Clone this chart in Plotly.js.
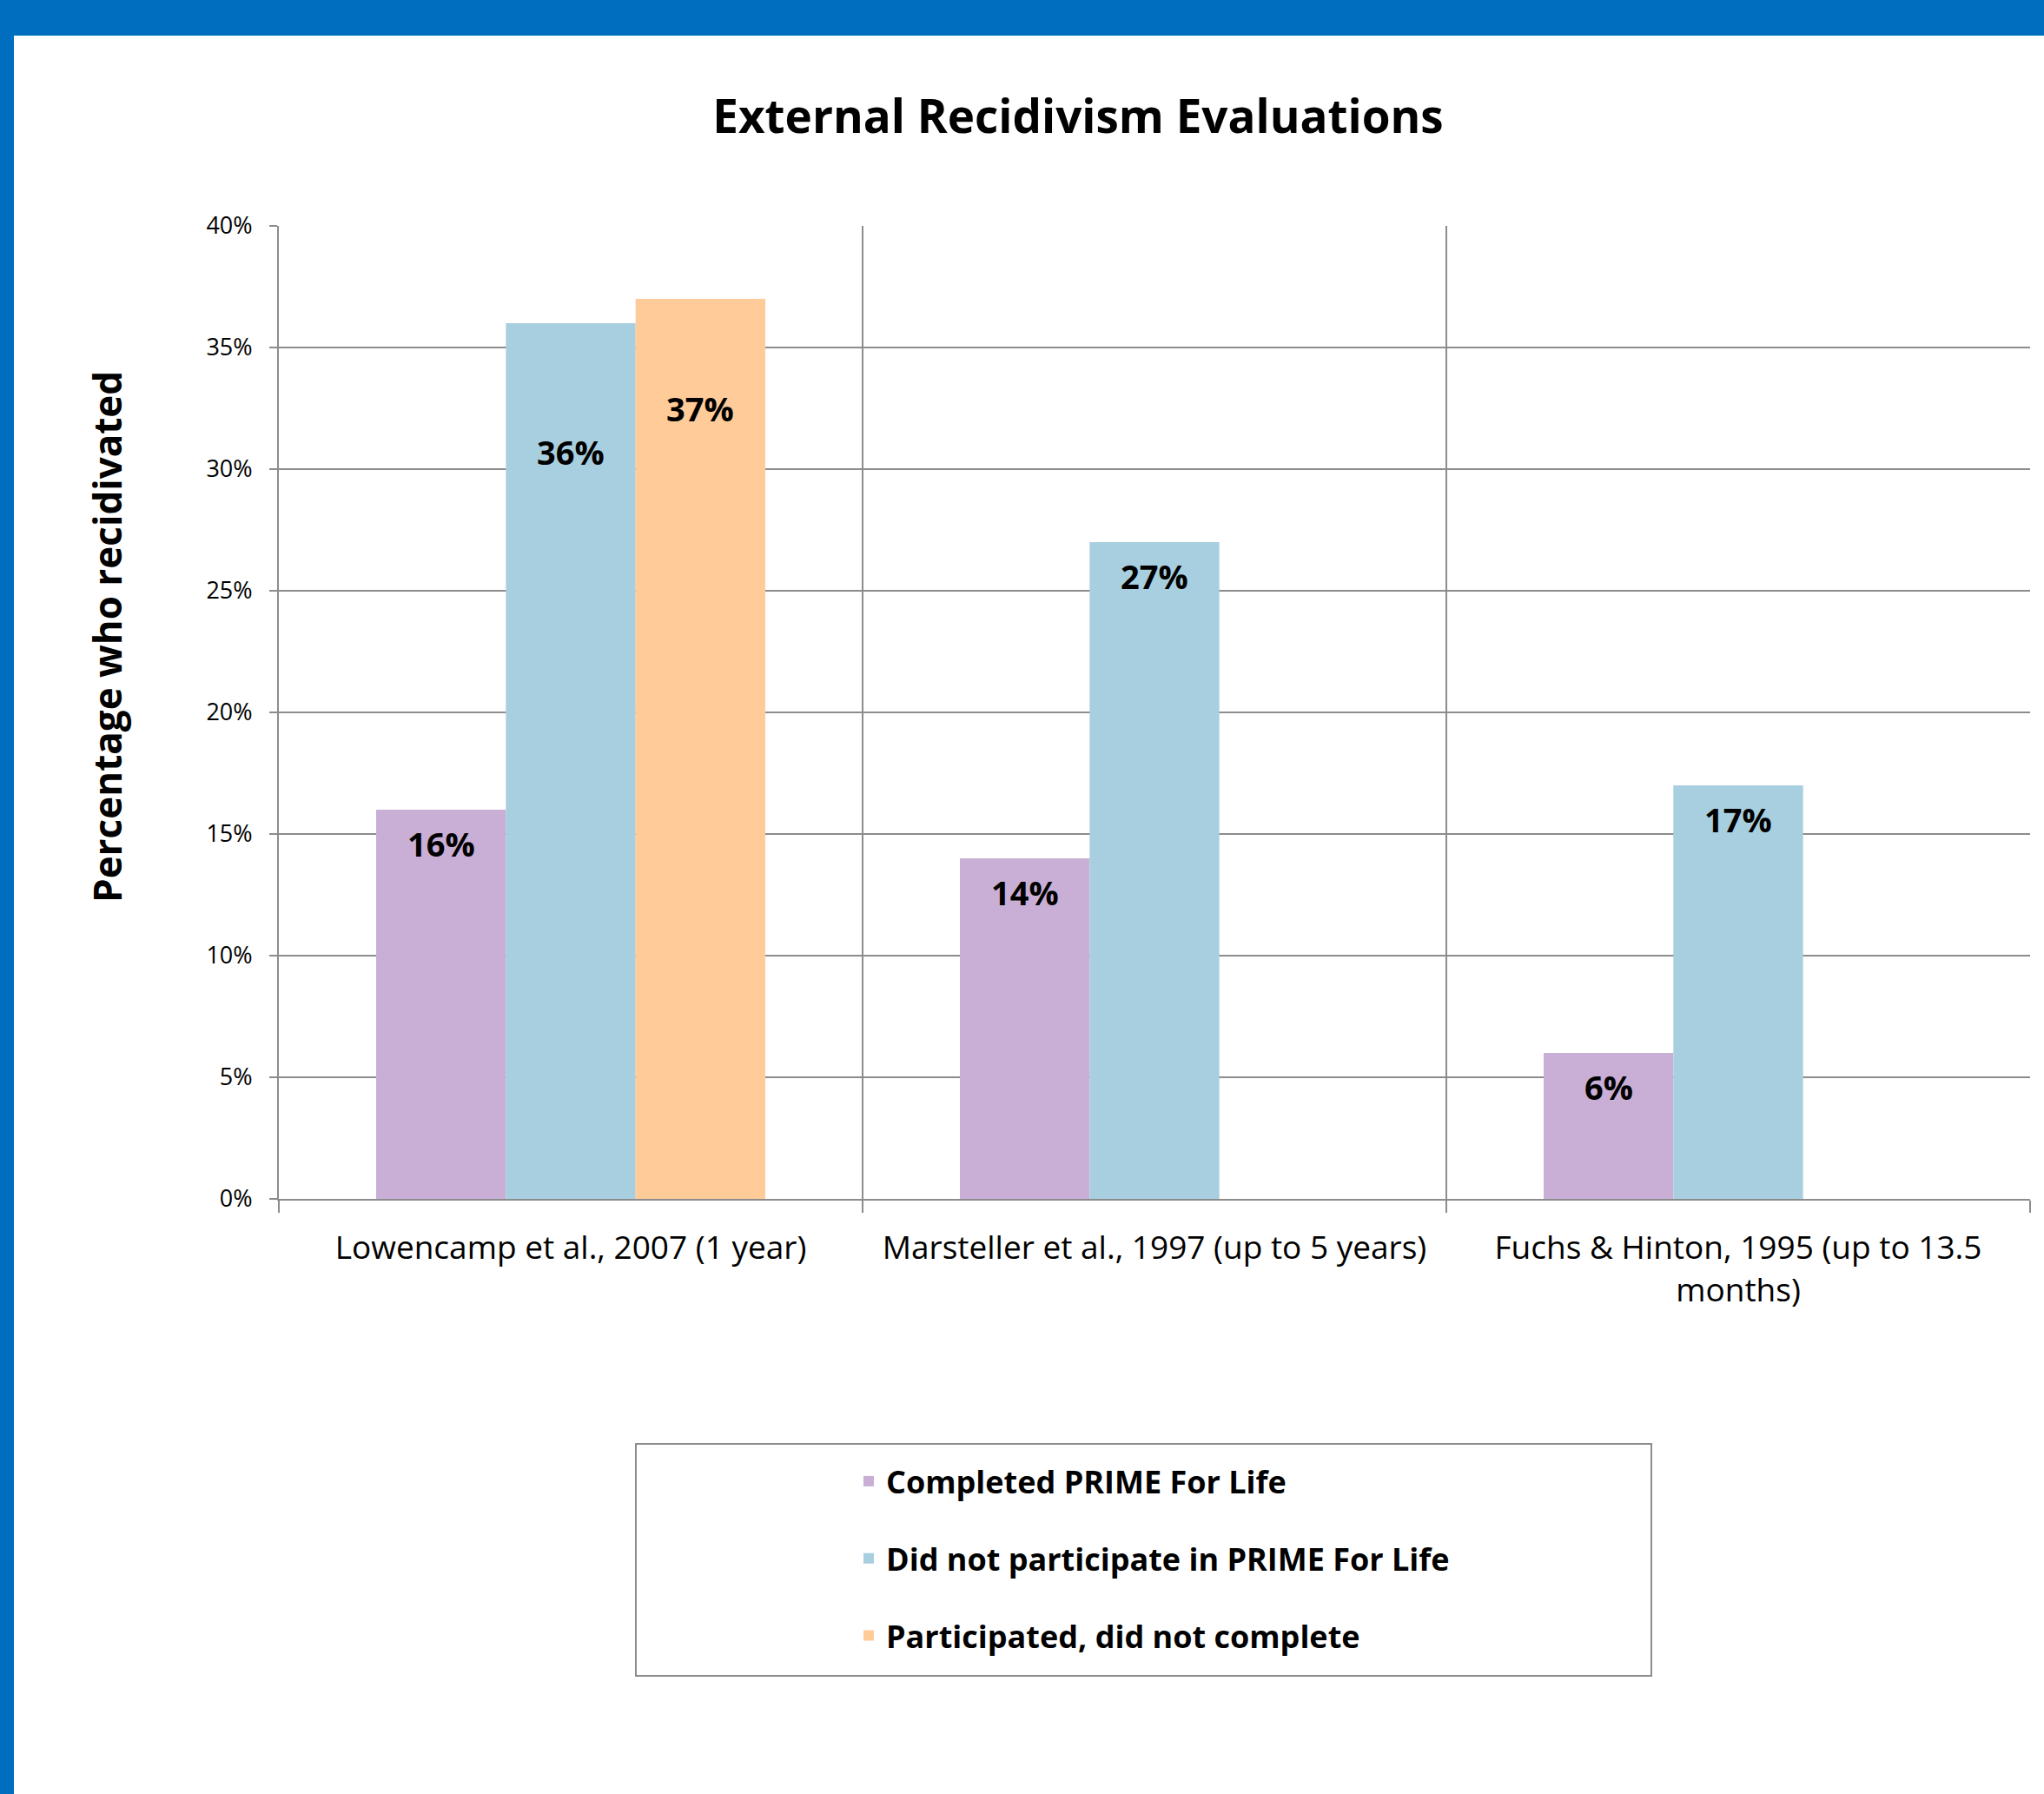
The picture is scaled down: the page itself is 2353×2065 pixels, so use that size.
<!DOCTYPE html>
<html>
<head>
<meta charset="utf-8">
<script src="https://cdn.plot.ly/plotly-3.0.1.min.js"></script>
<style>
  html, body { margin: 0; padding: 0; background: #ffffff; }
  #wrap { position: relative; width: 2353px; height: 2065px; overflow: hidden; }
  #chart { position: absolute; left: 0; top: 0; width: 2353px; height: 2065px; }
  .band { position: absolute; background: #006EBF; z-index: 10; }
</style>
</head>
<body>
<div id="wrap">
  <div id="chart"></div>
  <div class="band" style="left:0;top:0;width:2353px;height:41px;"></div>
  <div class="band" style="left:0;top:0;width:16px;height:2065px;"></div>
</div>
<script>
// ---- data ----
const categories = [
  "Lowencamp et al., 2007 (1 year)",
  "Marsteller et al., 1997 (up to 5 years)",
  "Fuchs & Hinton, 1995 (up to 13.5<br>months)"
];
const seriesNames = [
  "Completed PRIME For Life",
  "Did not participate in PRIME For Life",
  "Participated, did not complete"
];
const completed = [0.16, 0.14, 0.06];
const notParticipated = [0.36, 0.27, 0.17];
const participatedNotCompleted = [0.37, null, null];
const yTickVals = [0, 0.05, 0.10, 0.15, 0.20, 0.25, 0.30, 0.35, 0.40];

// ---- style ----
const colors = ["#C9AFD5", "#A8CFDF", "#FFCB99"];
const W = 2353, H = 2065;
const margin = { l: 321, r: 16, t: 260, b: 685 };
const bargap = 1 / 3;
const plotW = W - margin.l - margin.r;
const barPx = plotW / categories.length * (1 - bargap) / 3;
const labelDrop = 39;
// manual label drops (px below bar top) for labels moved in the original
const specialDrop = { "0-1": 148, "0-2": 126 };
const font = "'Open Sans', 'Noto Sans', sans-serif";

const allSeries = [completed, notParticipated, participatedNotCompleted];

const traces = allSeries.map((vals, i) => ({
  type: "bar",
  name: seriesNames[i],
  x: categories,
  y: vals,
  marker: { color: colors[i], line: { width: 0 } },
  legendgroup: "g" + i,
  hoverinfo: "skip"
}));

const annotations = [];
allSeries.forEach((vals, i) => {
  vals.forEach((v, j) => {
    if (v === null) return;
    const drop = specialDrop[j + "-" + i] || labelDrop;
    annotations.push({
      x: categories[j], y: v, xref: "x", yref: "y",
      xshift: (i - 1) * barPx, yshift: -drop,
      text: "<b>" + Math.round(v * 100) + "%</b>",
      showarrow: false, xanchor: "center", yanchor: "middle",
      font: { family: font, size: 38, color: "#000000" }
    });
  });
});

// y-axis title (positioned off-centre, as in the original)
annotations.push({
  xref: "paper", yref: "paper",
  x: (123 - margin.l) / plotW, y: (H - margin.b - 733) / (H - margin.t - margin.b),
  text: "<b>Percentage who recidivated</b>", textangle: -90,
  showarrow: false, xanchor: "center", yanchor: "middle",
  font: { family: font, size: 44, color: "#000000" }
});

const plotH = H - margin.t - margin.b;
const px2x = px => (px - margin.l) / plotW;
const py2y = py => (H - margin.b - py) / plotH;

const layout = {
  width: W, height: H,
  margin: margin,
  paper_bgcolor: "#ffffff",
  plot_bgcolor: "#ffffff",
  barmode: "group",
  bargap: bargap,
  bargroupgap: 0,
  title: {
    text: "<b>External Recidivism Evaluations</b>",
    xref: "container", yref: "container",
    x: 1241 / W, y: 1 - 134 / H, xanchor: "center", yanchor: "middle",
    font: { family: font, size: 53, color: "#000000" }
  },
  xaxis: {
    type: "category",
    tickson: "boundaries",
    ticks: "outside", ticklen: 14, tickwidth: 2, tickcolor: "#8c8c8c",
    showgrid: true, gridcolor: "#8c8c8c", gridwidth: 2,
    showline: true, linecolor: "#8c8c8c", linewidth: 2,
    ticklabelstandoff: 23,
    tickfont: { family: font, size: 37, color: "#000000" },
    fixedrange: true
  },
  yaxis: {
    range: [0, 0.40],
    tickvals: yTickVals,
    tickformat: ".0%",
    ticks: "outside", ticklen: 9, tickwidth: 2, tickcolor: "#8c8c8c",
    showgrid: true, gridcolor: "#8c8c8c", gridwidth: 2,
    showline: true, linecolor: "#8c8c8c", linewidth: 2,
    zeroline: false,
    ticklabelstandoff: 14,
    tickfont: { family: font, size: 27, color: "#000000" },
    fixedrange: true
  },
  showlegend: true,
  legend: {
    x: px2x(980), y: py2y(1675), xanchor: "left", yanchor: "top",
    xref: "paper", yref: "paper",
    traceorder: "grouped", tracegroupgap: 39,
    bgcolor: "rgba(0,0,0,0)", borderwidth: 0,
    font: { family: font, size: 36, color: "#000000", weight: "bold" },
    itemclick: false, itemdoubleclick: false
  },
  shapes: [{
    type: "rect", xref: "paper", yref: "paper",
    x0: px2x(732), x1: px2x(1901), y0: py2y(1929), y1: py2y(1662),
    line: { color: "#8c8c8c", width: 2 }, fillcolor: "rgba(0,0,0,0)", layer: "below"
  }],
  annotations: annotations
};

Plotly.newPlot("chart", traces, layout, { displayModeBar: false, staticPlot: true });
</script>
</body>
</html>
